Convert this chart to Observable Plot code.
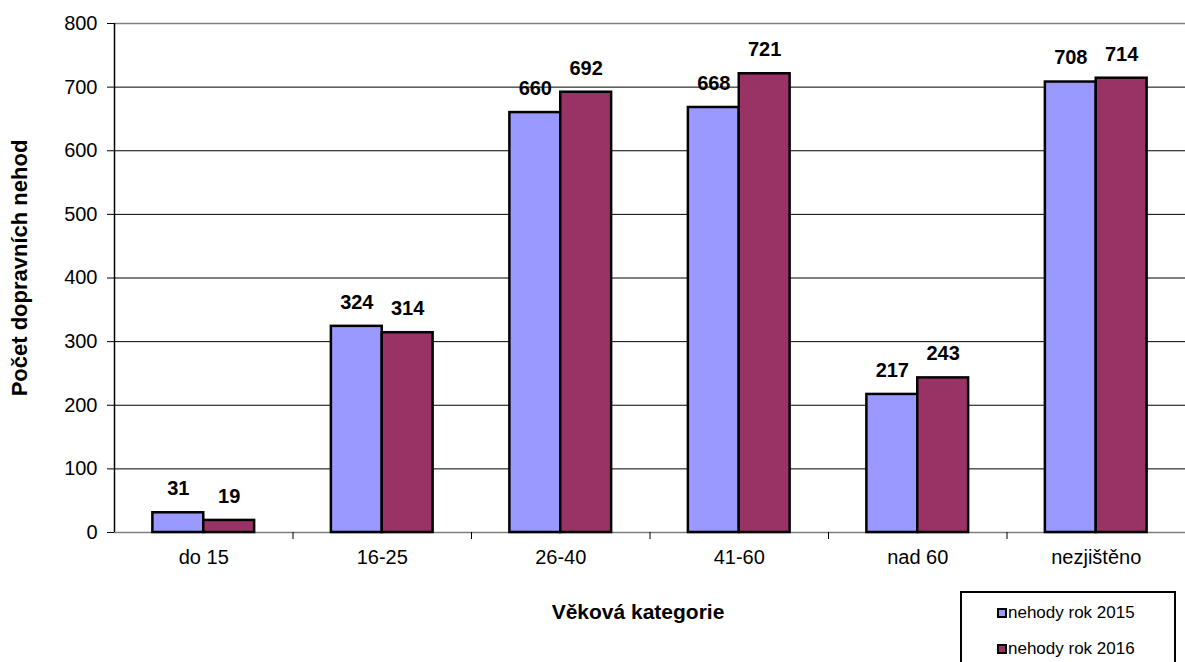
<!DOCTYPE html>
<html><head><meta charset="utf-8">
<script src="https://cdn.jsdelivr.net/npm/d3@7"></script>
<script src="https://cdn.jsdelivr.net/npm/@observablehq/plot@0.6"></script>
<style>
body{margin:0;background:#fff;font-family:"Liberation Sans",Arial,sans-serif;}
#wrap{position:relative;width:1185px;height:662px;overflow:hidden;}
#wrap svg{display:block;}
#legend{position:absolute;left:960px;top:591px;width:216px;height:90px;border:2px solid #000;box-sizing:border-box;background:#fff;font-size:17px;color:#000;}
.item{position:absolute;left:35px;display:flex;align-items:center;height:20px;}
.sw{width:6px;height:6px;border:2px solid #000;margin-right:1px;}
</style></head><body><div id="wrap"></div>
<script>
const categories = ["do 15", "16-25", "26-40", "41-60", "nad 60", "nezjištěno"];
const seriesNames = ["nehody rok 2015", "nehody rok 2016"];
const values2015 = [31, 324, 660, 668, 217, 708];
const values2016 = [19, 314, 692, 721, 243, 714];
const seriesColors = ["#9999FF", "#993366"];
const yTicks = [0, 100, 200, 300, 400, 500, 600, 700, 800];
const xLabel = "Věková kategorie";
const yLabel = "Počet dopravních nehod";

// bar placement within each category slot (fractions of the slot)
const slots = [[0.215, 0.5], [0.5, 0.785]];
const data = [];
categories.forEach((c, i) => {
  [values2015, values2016].forEach((vals, s) => {
    data.push({cat: c, i, series: seriesNames[s], value: vals[i],
      x1: i + slots[s][0], x2: i + slots[s][1]});
  });
});
const boundaries = d3.range(1, categories.length);
const centers = d3.range(categories.length).map(i => i + 0.5);

const chart = Plot.plot({
  width: 1185,
  height: 662,
  marginLeft: 114,
  marginRight: 0,
  marginTop: 23,
  marginBottom: 130,
  style: {fontFamily: "Liberation Sans, Arial, sans-serif", fontSize: "20px", color: "#000", background: "#fff"},
  x: {domain: [0, categories.length]},
  y: {domain: [0, 800]},
  color: {domain: seriesNames, range: seriesColors},
  marks: [
    Plot.gridY(yTicks.filter(t => t > 0 && t < 800), {stroke: "#000", strokeOpacity: 1, strokeWidth: 1}),
    Plot.ruleY([800], {stroke: "#808080", strokeWidth: 1.5}),
    Plot.ruleY([0], {stroke: "#808080", strokeWidth: 1.5}),
    Plot.rectY(data, {x1: "x1", x2: "x2", y: "value", fill: "series", stroke: "#000", strokeWidth: 2.5}),
    Plot.text(data, {x: d => (d.x1 + d.x2) / 2, y: "value", text: d => String(d.value), dy: -24, fontWeight: "bold", fontSize: 20, fill: "#000"}),
    Plot.axisY({ticks: yTicks, tickSize: 7, tickPadding: 10, tickFormat: d => String(d), label: null, stroke: "#000"}),
    Plot.axisX({ticks: centers, tickSize: 0, tickPadding: 17, tickFormat: d => categories[Math.floor(d)], label: null}),
    Plot.axisX({ticks: boundaries, tickSize: 7, tickFormat: () => "", label: null, stroke: "#000"}),
    Plot.ruleX([0], {stroke: "#000", strokeWidth: 1.5}),
    Plot.text([yLabel], {frameAnchor: "left", textAnchor: "middle", lineAnchor: "middle", rotate: -90, dx: -95, dy: -10, fontWeight: "bold", fontSize: 22, fill: "#000"}),
    Plot.text([xLabel], {frameAnchor: "bottom", textAnchor: "middle", lineAnchor: "middle", dx: -12, dy: 80, fontWeight: "bold", fontSize: 21, fill: "#000"})
  ]
});
const wrap = document.getElementById("wrap");
wrap.appendChild(chart);

const legend = document.createElement("div");
legend.id = "legend";
seriesNames.forEach((name, k) => {
  const item = document.createElement("div");
  item.className = "item";
  item.style.top = (10 + k * 36) + "px";
  const sw = document.createElement("span");
  sw.className = "sw";
  sw.style.background = seriesColors[k];
  const tx = document.createElement("span");
  tx.textContent = name;
  item.appendChild(sw);
  item.appendChild(tx);
  legend.appendChild(item);
});
wrap.appendChild(legend);
</script>
</body></html>
